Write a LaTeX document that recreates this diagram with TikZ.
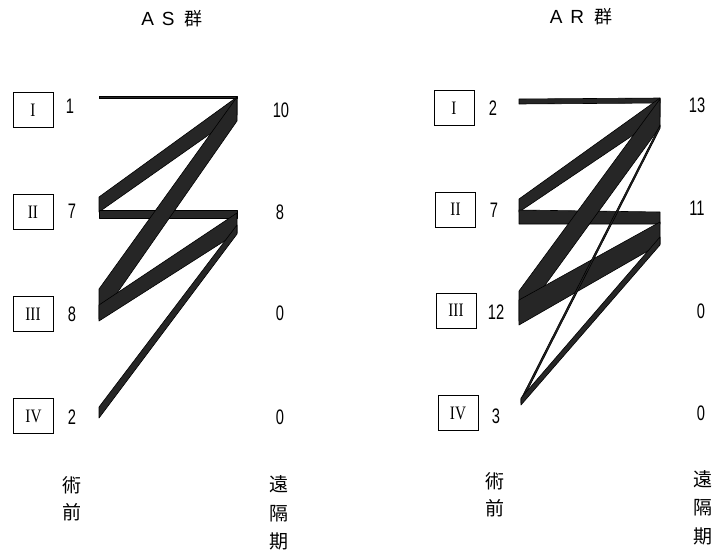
\documentclass[tikz,border=0pt]{standalone}
\usepackage{fontspec}
\newfontfamily\numfont[FakeStretch=0.7]{Liberation Sans}
\newfontfamily\titlefont{Liberation Sans}
\newfontfamily\romfont[FakeStretch=0.8]{Liberation Serif}
\newfontfamily\cjk{Noto Sans CJK JP}
\begin{document}
\begin{tikzpicture}[x=1pt,y=-1pt,
  band/.style={fill=black!85, draw=black, line width=0.6pt, line join=round},
  romanbox/.style={draw, line width=1pt, minimum width=40pt, minimum height=35pt, inner sep=0pt,
    font=\romfont\fontsize{19}{19}\selectfont},
  num/.style={inner sep=0pt, font=\numfont\fontsize{21}{21}\selectfont},
  grouptitle/.style={inner sep=0pt, font=\titlefont\fontsize{19}{19}\selectfont},
  vlabel/.style={inner sep=0pt, align=center, font=\cjk\fontsize{19}{27}\selectfont},
  vlabelthree/.style={inner sep=0pt, align=center, font=\cjk\fontsize{19}{28.5}\selectfont}]
\useasboundingbox (0,0) rectangle (716,552);

% ---------------- AS group ----------------
\node[grouptitle] (asTitle) at (172,19) {A\hspace{8pt}S\hspace{10pt}{\cjk\fontsize{18}{18}\selectfont 群}};

\node[romanbox] (asI)   at (33,110) {I};
\node[romanbox] (asII)  at (33,212) {II};
\node[romanbox] (asIII) at (33,314) {III};
\node[romanbox] (asIV)  at (33.5,416) {IV};

\node[num] (asPre1) at (70,106) {1};
\node[num] (asPre2) at (72,211) {7};
\node[num] (asPre3) at (72,314) {8};
\node[num] (asPre4) at (72,417) {2};

\node[num] (asPost1) at (281,110) {10};
\node[num] (asPost2) at (280,212) {8};
\node[num] (asPost3) at (280,313) {0};
\node[num] (asPost4) at (280,417) {0};

% flows AS (left column x=99, right column x=237)
\path[band] (99,96) -- (237,96) -- (237,98.5) -- (99,98.5) -- cycle;      % I -> I
\path[band] (99,197) -- (237,97) -- (237,115) -- (99,212) -- cycle;       % II -> I
\path[band] (99,210) -- (237,210) -- (237,218) -- (99,218) -- cycle;      % II -> II
\path[band] (99,289) -- (237,97) -- (237,121) -- (99,319) -- cycle;       % III -> I
\path[band] (99,305) -- (237,213) -- (237,233) -- (99,321) -- cycle;      % III -> II
\path[band] (99,407) -- (237,225) -- (237,234) -- (99,418) -- cycle;      % IV -> II

\node[vlabel] (asPreLbl) at (72,498.5) {術\\前};
\node[vlabelthree] (asPostLbl) at (279,513) {遠\\隔\\期};

% ---------------- AR group ----------------
\node[grouptitle] (arTitle) at (581,17) {A\hspace{8pt}R\hspace{10pt}{\cjk\fontsize{18}{18}\selectfont 群}};

\node[romanbox] (arI)   at (454,108) {I};
\node[romanbox] (arII)  at (455.5,209.5) {II};
\node[romanbox] (arIII) at (456,310.5) {III};
\node[romanbox] (arIV)  at (458,413) {IV};

\node[num] (arPre1) at (493,108) {2};
\node[num] (arPre2) at (494,210) {7};
\node[num] (arPre3) at (496,312) {12};
\node[num] (arPre4) at (496,416) {3};

\node[num] (arPost1) at (697,105) {13};
\node[num] (arPost2) at (697,208) {11};
\node[num] (arPost3) at (701,311) {0};
\node[num] (arPost4) at (701,413) {0};

% flows AR (left column x=519, right column x=660)
\path[band] (519,99) -- (660,98) -- (660,103) -- (519,104) -- cycle;      % I -> I
\path[band] (519,199) -- (660,98) -- (660,117) -- (519,212) -- cycle;     % II -> I
\path[band] (519,210) -- (660,212) -- (660,224) -- (519,224) -- cycle;    % II -> II
\path[band] (519,291) -- (660,99) -- (660,127) -- (519,321) -- cycle;     % III -> I
\path[band] (519,300) -- (660,222) -- (660,244) -- (519,325) -- cycle;    % III -> II
\path[band] (521,399) -- (660,125) -- (660,128.5) -- (521,403) -- cycle;  % IV -> I
\path[band] (521,398) -- (660,237) -- (660,245) -- (521,405) -- cycle;    % IV -> II

\node[vlabel] (arPreLbl) at (495,494.5) {術\\前};
\node[vlabelthree] (arPostLbl) at (703,507.5) {遠\\隔\\期};
\end{tikzpicture}
\end{document}
